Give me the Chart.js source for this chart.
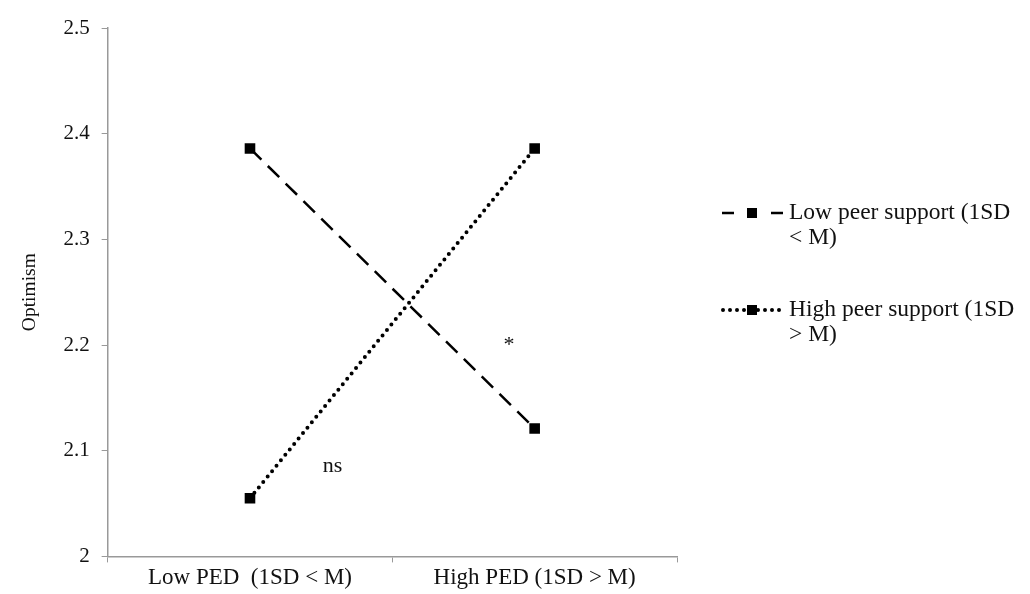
<!DOCTYPE html>
<html>
<head>
<meta charset="utf-8">
<script src="https://cdn.jsdelivr.net/npm/chart.js@4"></script>
<style>
  html, body { margin: 0; padding: 0; background: #fff; }
  #wrap { width: 1030px; height: 594px; position: relative; }
</style>
</head>
<body>
<div id="wrap"><canvas id="chart"></canvas></div>
<script>
// Chart data
const categories = ['Low PED  (1SD < M)', 'High PED (1SD > M)'];
const lowPeerSupport = [2.386, 2.121];
const highPeerSupport = [2.055, 2.386];
const seriesNames = [['Low peer support (1SD', '< M)'], ['High peer support (1SD', '> M)']];
const yTicks = [2, 2.1, 2.2, 2.3, 2.4, 2.5];
// annotation labels: [text, position between categories, y value]
const notes = [['ns', 0.29, 2.085], ['*', 0.91, 2.2]];

const serif = "'Liberation Serif', 'Times New Roman', serif";

// Draws the ns / * notes and the two-line legend on the right
const extrasPlugin = {
    id: 'extras',
    afterDraw(chart) {
        const ctx = chart.ctx;
        const xs = chart.scales.x;
        const ys = chart.scales.y;
        ctx.save();
        ctx.fillStyle = '#111';
        ctx.font = '22px ' + serif;
        ctx.textAlign = 'center';
        ctx.textBaseline = 'middle';
        notes.forEach(n => {
            const x = xs.getPixelForValue(0) + n[1] * (xs.getPixelForValue(1) - xs.getPixelForValue(0));
            ctx.fillText(n[0], x, ys.getPixelForValue(n[2]));
        });

        // legend
        const rows = [213, 310];
        chart.data.datasets.forEach((ds, i) => {
            const cy = rows[i];
            ctx.strokeStyle = ds.borderColor;
            ctx.lineWidth = ds.borderWidth;
            ctx.lineCap = ds.borderCapStyle || 'butt';
            ctx.setLineDash(i === 0 ? [12, 13] : [0, 7]);
            ctx.beginPath();
            if (i === 0) {
                ctx.moveTo(722, cy); ctx.lineTo(734, cy);
                ctx.moveTo(771, cy); ctx.lineTo(784, cy);
            } else {
                ctx.moveTo(723, cy); ctx.lineTo(786, cy);
            }
            ctx.stroke();
            ctx.setLineDash([]);
            ctx.fillStyle = '#000';
            ctx.fillRect(747, cy - 5, 10, 10);
            ctx.fillStyle = '#111';
            ctx.font = '23.5px ' + serif;
            ctx.textAlign = 'left';
            ctx.textBaseline = 'middle';
            seriesNames[i].forEach((t, k) => {
                ctx.fillText(t, 789, cy + k * 25);
            });
        });
        ctx.restore();
    }
};

document.addEventListener('DOMContentLoaded', function() {
    const ctx = document.getElementById('chart');
    new Chart(ctx, {
        type: 'line',
        data: {
            labels: categories,
            datasets: [{
                label: seriesNames[0].join(' '),
                data: lowPeerSupport,
                borderColor: '#000',
                borderWidth: 2.5,
                borderDash: [16, 9],
                pointStyle: 'rect',
                pointRadius: 7.5,
                pointBackgroundColor: '#000',
                pointBorderWidth: 0
            }, {
                label: seriesNames[1].join(' '),
                data: highPeerSupport,
                borderColor: '#000',
                borderWidth: 4,
                borderDash: [0, 7],
                borderCapStyle: 'round',
                pointStyle: 'rect',
                pointRadius: 7.5,
                pointBackgroundColor: '#000',
                pointBorderWidth: 0
            }]
        },
        options: {
            responsive: true,
            maintainAspectRatio: false,
            animation: false,
            layout: { padding: { top: 28, right: 353, left: 14, bottom: 0 } },
            plugins: {
                legend: { display: false },
                tooltip: { enabled: false }
            },
            scales: {
                x: {
                    offset: true,
                    grid: { offset: true, drawOnChartArea: false, drawTicks: true, tickLength: 6, color: '#999' },
                    border: { color: '#999', width: 1.5 },
                    ticks: { color: '#111', font: { family: serif, size: 23 }, padding: 2 }
                },
                y: {
                    min: 2,
                    max: 2.5,
                    afterBuildTicks: axis => { axis.ticks = yTicks.map(v => ({ value: v })); },
                    grid: { drawOnChartArea: false, drawTicks: true, tickLength: 6, color: '#999' },
                    border: { color: '#999', width: 1.5 },
                    ticks: {
                        color: '#111',
                        font: { family: serif, size: 21 },
                        padding: 12,
                        callback: v => String(Math.round(v * 10) / 10)
                    },
                    title: {
                        display: true,
                        text: 'Optimism',
                        color: '#111',
                        font: { family: serif, size: 19.5 },
                        padding: { bottom: 10 }
                    }
                }
            }
        },
        plugins: [extrasPlugin]
    });
});
</script>
</body>
</html>
